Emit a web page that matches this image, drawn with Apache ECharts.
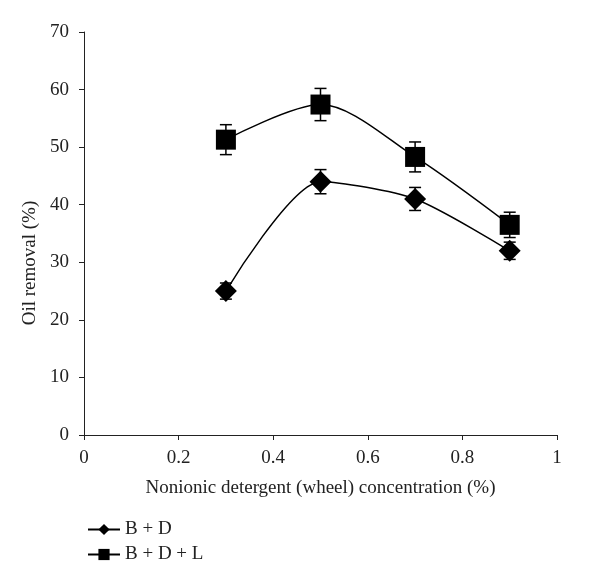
<!DOCTYPE html>
<html><head><meta charset="utf-8">
<script src="https://cdn.jsdelivr.net/npm/echarts@6/dist/echarts.min.js"></script>
<style>html,body{margin:0;padding:0;background:#fff}#c{width:600px;height:583px}</style>
</head><body><div id="c"></div>
<script>
const concentrations = [0.3, 0.5, 0.7, 0.9];
const bdValues = [25, 44, 41, 32];
const bdErrors = [1.4, 2.1, 2.0, 1.5];
const bdlValues = [51.3, 57.4, 48.3, 36.5];
const bdlErrors = [2.6, 2.8, 2.6, 2.2];
const xTicks = [0, 0.2, 0.4, 0.6, 0.8, 1];
const yTicks = [0, 10, 20, 30, 40, 50, 60, 70];
const seriesNames = ['B + D', 'B + D + L'];
const xTitle = 'Nonionic detergent (wheel) concentration (%)';
const yTitle = 'Oil removal (%)';

const FONT = '"Liberation Serif", "DejaVu Serif", serif';
const FS = 19;
const chart = echarts.init(document.getElementById('c'));

function pairs(vals) { return concentrations.map((x, i) => [x, vals[i]]); }
function errData(vals, errs) { return concentrations.map((x, i) => [x, vals[i] - errs[i], vals[i] + errs[i]]); }
function errRender(params, api) {
  const x = api.value(0);
  const lo = api.coord([x, api.value(1)]);
  const hi = api.coord([x, api.value(2)]);
  const w = 6;
  const st = { stroke: '#000', lineWidth: 1.5 };
  return { type: 'group', children: [
    { type: 'line', shape: { x1: lo[0], y1: lo[1], x2: hi[0], y2: hi[1] }, style: st },
    { type: 'line', shape: { x1: lo[0] - w, y1: lo[1], x2: lo[0] + w, y2: lo[1] }, style: st },
    { type: 'line', shape: { x1: hi[0] - w, y1: hi[1], x2: hi[0] + w, y2: hi[1] }, style: st }
  ]};
}

chart.setOption({
  animation: false,
  backgroundColor: '#fff',
  textStyle: { fontFamily: FONT },
  grid: { left: 84, right: 43, top: 32, bottom: 148, containLabel: false },
  xAxis: {
    type: 'value', min: 0, max: 1, interval: 0.2,
    name: xTitle, nameLocation: 'middle', nameGap: 44,
    nameTextStyle: { fontFamily: FONT, fontSize: FS, color: '#222' },
    axisLine: { show: true, lineStyle: { color: '#222', width: 1 } },
    axisTick: { show: true, length: 5, lineStyle: { color: '#222' } },
    axisLabel: { fontFamily: FONT, fontSize: FS, color: '#222', margin: 14,
      formatter: v => xTicks.includes(+v.toFixed(1)) ? String(+v.toFixed(1)) : '' },
    splitLine: { show: false }
  },
  yAxis: {
    type: 'value', min: 0, max: 70, interval: 10,
    axisLine: { show: true, lineStyle: { color: '#222', width: 1 } },
    axisTick: { show: true, length: 5, lineStyle: { color: '#222' } },
    axisLabel: { fontFamily: FONT, fontSize: FS, color: '#222', margin: 15,
      formatter: v => yTicks.includes(v) ? String(v) : '' },
    splitLine: { show: false }
  },
  graphic: [{
    type: 'text', x: 30, y: 263, rotation: Math.PI / 2,
    style: { text: yTitle, font: FS + 'px ' + FONT, fill: '#222', align: 'center', verticalAlign: 'middle' }
  }],
  legend: {
    orient: 'vertical', left: 82, top: 515, itemWidth: 32, itemHeight: 14, itemGap: 6,
    textStyle: { fontFamily: FONT, fontSize: FS, color: '#222' },
    data: seriesNames
  },
  series: [
    { name: seriesNames[0], type: 'line', data: pairs(bdValues), smooth: 0.25,
      symbol: 'diamond', symbolSize: 22, itemStyle: { color: '#000' },
      lineStyle: { color: '#000', width: 1.5 }, z: 3 },
    { name: seriesNames[1], type: 'line', data: pairs(bdlValues), smooth: 0.3,
      symbol: 'rect', symbolSize: 20, itemStyle: { color: '#000' },
      lineStyle: { color: '#000', width: 1.5 }, z: 3 },
    { type: 'custom', data: errData(bdValues, bdErrors), renderItem: errRender, z: 2, silent: true },
    { type: 'custom', data: errData(bdlValues, bdlErrors), renderItem: errRender, z: 2, silent: true }
  ]
});
</script></body></html>
